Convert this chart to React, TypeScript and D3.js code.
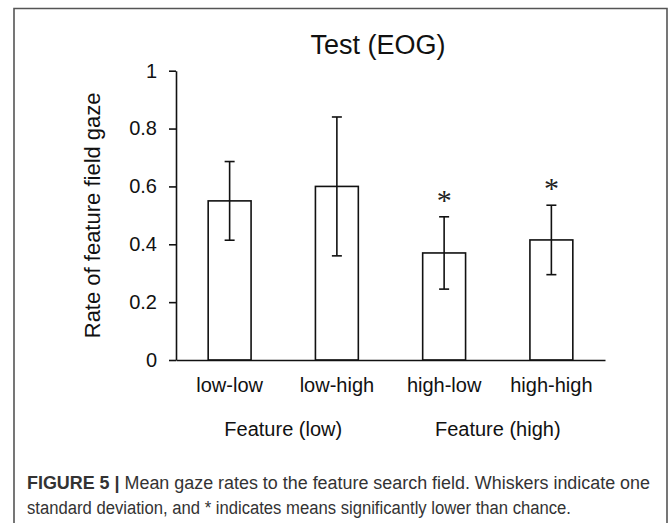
import React, { useEffect, useRef } from "react";
import { axisBottom, axisLeft, scaleBand, scaleLinear, select } from "d3";

// data
const categories = ["low-low", "low-high", "high-low", "high-high"];
const means = [0.55, 0.6, 0.37, 0.415];
const sds = [0.136, 0.24, 0.125, 0.12];
const significant = [false, false, true, true];
const groups = ["Feature (low)", "Feature (high)"];
const groupMembers = [
  ["low-low", "low-high"],
  ["high-low", "high-high"],
];
const yTicks = [0, 0.2, 0.4, 0.6, 0.8, 1];

const W = 670;
const H = 523;
const FONT = "'Liberation Sans', Arial, Helvetica, sans-serif";

const App = () => {
  const xAxisRef = useRef<SVGGElement | null>(null);
  const yAxisRef = useRef<SVGGElement | null>(null);

  const y = scaleLinear().domain([0, 1]).range([360, 70.7]);
  const x = scaleBand()
    .domain(categories)
    .range([176, 605])
    .paddingInner(0.6)
    .paddingOuter(0.3);
  const bw = x.bandwidth();

  useEffect(() => {
    const yAxis = axisLeft(y)
      .tickValues(yTicks)
      .tickSize(7)
      .tickSizeOuter(0)
      .tickPadding(12)
      .tickFormat((d) => String(d));
    const gy = select(yAxisRef.current);
    gy.call(yAxis);
    gy.selectAll("path, line").attr("stroke", "#111").attr("stroke-width", 1.6);
    gy.selectAll("text")
      .attr("font-family", FONT)
      .attr("font-size", 20)
      .attr("fill", "#111");

    const xAxis = axisBottom(x).tickSize(0).tickSizeOuter(0).tickPadding(18);
    const gx = select(xAxisRef.current);
    gx.call(xAxis);
    gx.selectAll("path").attr("stroke", "#111").attr("stroke-width", 1.6);
    gx.selectAll("text")
      .attr("font-family", FONT)
      .attr("font-size", 20)
      .attr("fill", "#111");
  }, []);

  return (
    <svg
      width={W}
      height={H}
      style={{ position: "absolute", left: 0, top: 0, background: "#fff" }}
    >
      <rect width={W} height={H} fill="#fff" />
      {/* frame, open at the bottom */}
      <path
        d={`M14,${H} V8.5 H667 V${H}`}
        fill="none"
        stroke="#555"
        strokeWidth={1.6}
      />

      <text
        x={378}
        y={54}
        textAnchor="middle"
        fontFamily={FONT}
        fontSize={27}
        fill="#111"
      >
        Test (EOG)
      </text>

      <text
        transform={`translate(100, ${(y(0) + y(1)) / 2}) rotate(-90)`}
        textAnchor="middle"
        fontFamily={FONT}
        fontSize={22}
        fill="#111"
      >
        Rate of feature field gaze
      </text>

      {/* bars */}
      {categories.map((c, i) => (
        <rect
          key={c}
          x={x(c)}
          y={y(means[i])}
          width={bw}
          height={y(0) - y(means[i])}
          fill="#fff"
          stroke="#111"
          strokeWidth={1.6}
        />
      ))}

      {/* whiskers */}
      {categories.map((c, i) => {
        const cx = (x(c) as number) + bw / 2;
        const hi = y(means[i] + sds[i]);
        const lo = y(means[i] - sds[i]);
        return (
          <g key={c} stroke="#111" strokeWidth={1.6}>
            <line x1={cx} x2={cx} y1={hi} y2={lo} />
            <line x1={cx - 5} x2={cx + 5} y1={hi} y2={hi} />
            <line x1={cx - 5} x2={cx + 5} y1={lo} y2={lo} />
          </g>
        );
      })}

      {/* significance marks */}
      {categories.map((c, i) =>
        significant[i] ? (
          <text
            key={c}
            x={(x(c) as number) + bw / 2}
            y={y(means[i] + sds[i]) - 7}
            textAnchor="middle"
            fontFamily="'Liberation Serif', 'Times New Roman', serif"
            fontSize={30}
            fill="#222"
          >
            *
          </text>
        ) : null
      )}

      <g ref={yAxisRef} transform={`translate(176,0)`} />
      <g ref={xAxisRef} transform={`translate(0,${y(0)})`} />

      {/* group labels */}
      {groups.map((g, i) => {
        const a = x(groupMembers[i][0]) as number;
        const b = (x(groupMembers[i][1]) as number) + bw;
        return (
          <text
            key={g}
            x={(a + b) / 2}
            y={436}
            textAnchor="middle"
            fontFamily={FONT}
            fontSize={20}
            fill="#111"
          >
            {g}
          </text>
        );
      })}

      {/* caption */}
      <g fontFamily={FONT} fontSize={18} fill="#333">
        <text x={27} y={489} textLength={623} lengthAdjust="spacingAndGlyphs">
          <tspan fontWeight="bold">FIGURE 5 |</tspan> Mean gaze rates to the
          feature search field. Whiskers indicate one
        </text>
        <text x={27} y={514} textLength={544} lengthAdjust="spacingAndGlyphs">
          standard deviation, and * indicates means significantly lower than
          chance.
        </text>
      </g>
    </svg>
  );
};

export default App;
